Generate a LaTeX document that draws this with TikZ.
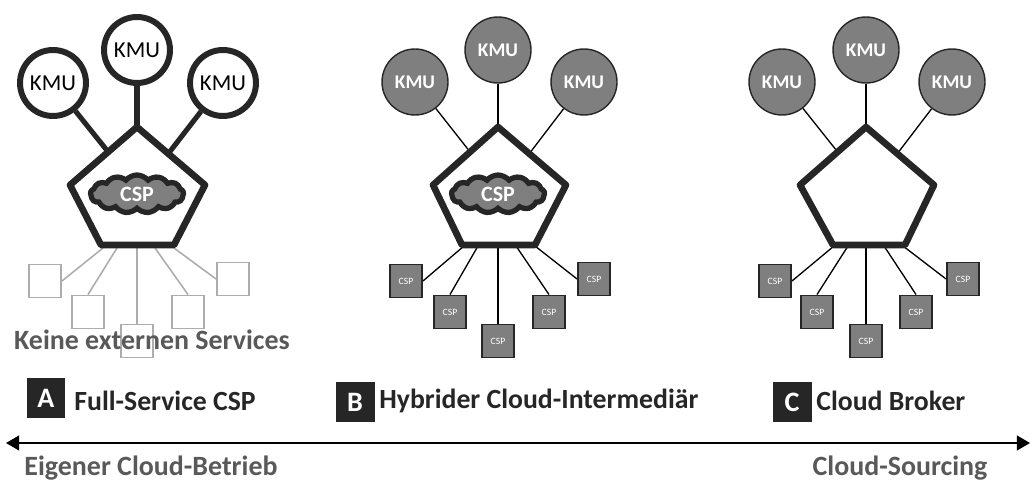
\documentclass[tikz,border=0pt]{standalone}
\usepackage{fontspec}
\setmainfont{Carlito}
\usepackage{tikz}
\usetikzlibrary{arrows.meta,shapes.symbols,calc}

\definecolor{kmuDark}{HTML}{262626}
\definecolor{kmuGray}{HTML}{7F7F7F}
\definecolor{kmuPale}{HTML}{ADADAD}
\definecolor{kmuText}{HTML}{595959}

\begin{document}
\begin{tikzpicture}[x=0.02cm,y=-0.02cm,
  kmu/.style={shape=circle,draw=kmuDark,line width=3.4pt,fill=white,minimum size=1.32cm,inner sep=0pt,font=\fontsize{13}{13}\selectfont},
  kmuG/.style={kmu,line width=0.8pt,fill=kmuGray,text=white,font=\fontsize{11}{11}\selectfont\bfseries},
  penta/.style={draw=kmuDark,line width=3.8pt,line join=round},
  cloudCSP/.style={shape=cloud,cloud puffs=13,cloud puff arc=100,aspect=2.6,draw=kmuDark,line width=3pt,fill=kmuGray,text=white,inner sep=0pt,minimum width=1.86cm,minimum height=0.76cm,font=\fontsize{12.5}{12.5}\selectfont\bfseries},
  box/.style={shape=rectangle,draw=kmuDark,line width=1.1pt,fill=kmuGray,text=white,minimum width=0.64cm,minimum height=0.66cm,inner sep=0pt,font=\fontsize{5.5}{6}\selectfont},
  boxE/.style={box,draw=kmuPale,fill=none},
  tag/.style={shape=rectangle,fill=kmuDark,text=white,minimum width=0.78cm,minimum height=0.8cm,inner sep=0pt,font=\fontsize{16}{16}\selectfont\bfseries},
  title/.style={anchor=west,inner sep=0pt,text=kmuDark,font=\fontsize{15.8}{16}\selectfont\bfseries},
  note/.style={inner sep=0pt,text=kmuText,font=\fontsize{15.9}{16}\selectfont\bfseries},
  thick link/.style={draw=kmuDark,line width=2.9pt},
  thin link/.style={draw=black,line width=0.75pt},
  pale link/.style={draw=kmuPale,line width=0.9pt}]
\def\xa{137};
\def\xb{498};
\def\xc{866};

\useasboundingbox (0,0) rectangle (1030,482);

% A
\node[kmu] (KA1) at (\xa-84,83) {KMU};
\node[kmu] (KA2) at (\xa,50) {KMU};
\node[kmu] (KA3) at (\xa+86,83) {KMU};
\coordinate (TA) at (\xa,127);
\coordinate (LA) at (\xa-67,185);
\coordinate (RA) at (\xa+68,185);
\coordinate (BLA) at (\xa-36,245);
\coordinate (BRA) at (\xa+37,245);
\coordinate (PA1) at (\xa-34,248);
\coordinate (PA2) at (\xa-20,248);
\coordinate (PA3) at (\xa,248);
\coordinate (PA4) at (\xa+18,248);
\coordinate (PA5) at (\xa+37,248);
\draw[thick link] (KA1) -- ($(TA)!0.43!(LA)$);
\draw[thick link] (KA2) -- (TA);
\draw[thick link] (KA3) -- ($(TA)!0.46!(RA)$);
\node[boxE] (SA1) at (\xa-92,281) {};
\draw[pale link] (PA1) -- (SA1.east);
\node[boxE] (SA2) at (\xa-49,312) {};
\draw[pale link] (PA2) -- (SA2.north);
\node[boxE] (SA3) at (\xa,341) {};
\draw[pale link] (PA3) -- (SA3.north);
\node[boxE] (SA4) at (\xa+51,312) {};
\draw[pale link] (PA4) -- (SA4.north);
\node[boxE] (SA5) at (\xa+96,279) {};
\draw[pale link] (PA5) -- (SA5.west);
\draw[penta] (TA) -- (RA) -- (BRA) -- (BLA) -- (LA) -- cycle;
\node[cloudCSP] (CA) at (\xa,194) {CSP};

% B
\node[kmuG] (KB1) at (\xb-83,82) {KMU};
\node[kmuG] (KB2) at (\xb,50) {KMU};
\node[kmuG] (KB3) at (\xb+86,82) {KMU};
\coordinate (TB) at (\xb,127);
\coordinate (LB) at (\xb-65,185);
\coordinate (RB) at (\xb+68,185);
\coordinate (BLB) at (\xb-36,245);
\coordinate (BRB) at (\xb+37,245);
\coordinate (PB1) at (\xb-34,246);
\coordinate (PB2) at (\xb-20,246);
\coordinate (PB3) at (\xb,246);
\coordinate (PB4) at (\xb+18,246);
\coordinate (PB5) at (\xb+37,246);
\draw[thin link] (KB1) -- ($(TB)!0.43!(LB)$);
\draw[thin link] (KB2) -- (TB);
\draw[thin link] (KB3) -- ($(TB)!0.46!(RB)$);
\node[box] (SB1) at (\xb-92,281) {CSP};
\draw[thin link] (PB1) -- (SB1.east);
\node[box] (SB2) at (\xb-48,312) {CSP};
\draw[thin link] (PB2) -- (SB2.north);
\node[box] (SB3) at (\xb,341) {CSP};
\draw[thin link] (PB3) -- (SB3.north);
\node[box] (SB4) at (\xb+51,312) {CSP};
\draw[thin link] (PB4) -- (SB4.north);
\node[box] (SB5) at (\xb+96,279) {CSP};
\draw[thin link] (PB5) -- (SB5.west);
\draw[penta] (TB) -- (RB) -- (BRB) -- (BLB) -- (LB) -- cycle;
\node[cloudCSP] (CB) at (\xb,194) {CSP};

% C
\node[kmuG] (KC1) at (\xc-84,82) {KMU};
\node[kmuG] (KC2) at (\xc,50) {KMU};
\node[kmuG] (KC3) at (\xc+86,82) {KMU};
\coordinate (TC) at (\xc,127);
\coordinate (LC) at (\xc-66,185);
\coordinate (RC) at (\xc+68,185);
\coordinate (BLC) at (\xc-33,245);
\coordinate (BRC) at (\xc+39,245);
\coordinate (PC1) at (\xc-32,246);
\coordinate (PC2) at (\xc-18,246);
\coordinate (PC3) at (\xc,246);
\coordinate (PC4) at (\xc+18,246);
\coordinate (PC5) at (\xc+37,246);
\draw[thin link] (KC1) -- ($(TC)!0.43!(LC)$);
\draw[thin link] (KC2) -- (TC);
\draw[thin link] (KC3) -- ($(TC)!0.46!(RC)$);
\node[box] (SC1) at (\xc-91,281) {CSP};
\draw[thin link] (PC1) -- (SC1.east);
\node[box] (SC2) at (\xc-49,312) {CSP};
\draw[thin link] (PC2) -- (SC2.north);
\node[box] (SC3) at (\xc,341) {CSP};
\draw[thin link] (PC3) -- (SC3.north);
\node[box] (SC4) at (\xc+50,312) {CSP};
\draw[thin link] (PC4) -- (SC4.north);
\node[box] (SC5) at (\xc+97,279) {CSP};
\draw[thin link] (PC5) -- (SC5.west);
\draw[penta] (TC) -- (RC) -- (BRC) -- (BLC) -- (LC) -- cycle;

% labels
\node[note] (none) at (152,340) {Keine externen Services};
\node[tag] (tagA) at (46,398) {A};
\node[title] (titleA) at (74,401) {Full-Service CSP};
\node[tag] (tagB) at (355,402) {B};
\node[title] (titleB) at (379,401) {Hybrider Cloud-Intermediär};
\node[tag] (tagC) at (792,402) {C};
\node[title] (titleC) at (816,401) {Cloud Broker};

\coordinate (arrL) at (6,443);
\coordinate (arrR) at (1030,443);
\draw[{Triangle[length=7.5pt,width=8.5pt]}-{Triangle[length=7.5pt,width=8.5pt]},line width=0.8pt] (arrL) -- (arrR);
\node[note] (own) at (151,468) {Eigener Cloud-Betrieb};
\node[note] (src) at (900,468) {Cloud-Sourcing};
\end{tikzpicture}
\end{document}
